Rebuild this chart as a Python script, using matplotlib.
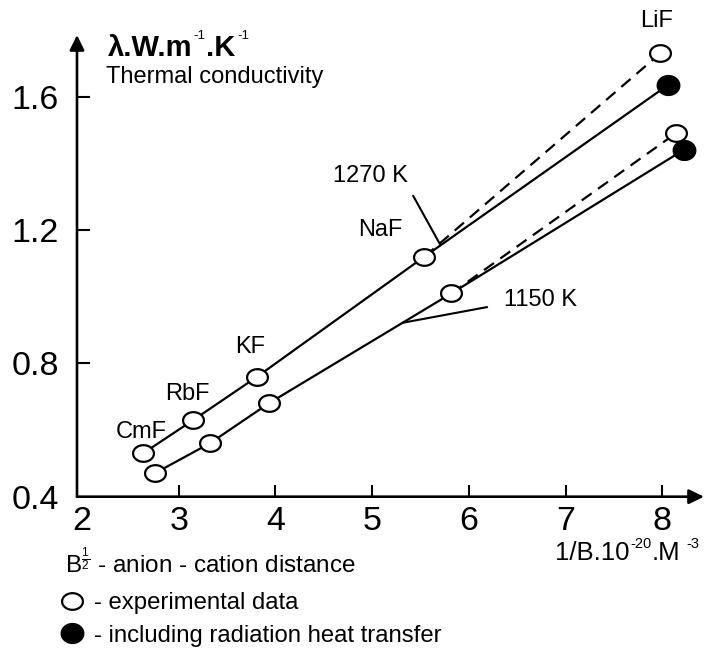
import numpy as np
import matplotlib
matplotlib.use("Agg")
import matplotlib.pyplot as plt
from matplotlib.path import Path
from matplotlib.lines import Line2D

plt.rcParams['font.family'] = ['Liberation Sans', 'DejaVu Sans']
plt.rcParams['mathtext.fontset'] = 'custom'
plt.rcParams['mathtext.rm'] = 'Liberation Sans'
plt.rcParams['mathtext.it'] = 'Liberation Sans:italic'
plt.rcParams['mathtext.bf'] = 'Liberation Sans:bold'

# Thermal conductivity of alkali fluorides vs 1/B (B^(1/2) = anion-cation distance)
compounds = ['CmF', 'RbF', 'KF', 'NaF', 'LiF']

# 1270 K series: experimental (open) and LiF including radiation heat transfer (filled)
inv_b_1270 = [2.63, 3.15, 3.81, 5.54, 7.98]
lam_1270_exp = [0.53, 0.63, 0.76, 1.12, 1.73]
inv_b_1270_rad = [8.06]
lam_1270_rad = [1.635]

# 1150 K series
inv_b_1150 = [2.75, 3.32, 3.93, 5.82, 8.14]
lam_1150_exp = [0.47, 0.56, 0.68, 1.01, 1.49]
inv_b_1150_rad = [8.22]
lam_1150_rad = [1.44]

x_ticks = [2, 3, 4, 5, 6, 7, 8]
y_ticks = [0.4, 0.8, 1.2, 1.6]
y_tick_labels = ['0.4', '0.8', '1.2', '1.6']

# slightly flattened ellipse markers
t = np.linspace(0, 2 * np.pi, 60)
ell_open = Path(np.column_stack([np.cos(t), 0.8 * np.sin(t)]), closed=True)
ell_fill = Path(np.column_stack([np.cos(t), 0.88 * np.sin(t)]), closed=True)

fig = plt.figure(figsize=(7.04, 6.48), dpi=100)
ax = fig.add_axes([77 / 704, 1 - 496.7 / 648, 627 / 704, (496.7 - 35) / 648])
ax.set_xlim(1.947, 8.432)
ax.set_ylim(0.4, 1.785)

for s in ax.spines.values():
    s.set_visible(False)

# axis lines with arrow heads
arrow_kw = dict(arrowstyle='-|>,head_length=0.45,head_width=0.22', lw=1.9,
                color='black', shrinkA=0, shrinkB=0, mutation_scale=20)
ax.annotate('', xy=(1, 0), xytext=(0, 0), xycoords='axes fraction',
            textcoords='axes fraction', arrowprops=arrow_kw, annotation_clip=False)
ax.annotate('', xy=(0, 1), xytext=(0, 0), xycoords='axes fraction',
            textcoords='axes fraction', arrowprops=arrow_kw, annotation_clip=False)

ax.set_xticks(x_ticks)
ax.set_xticklabels([str(v) for v in x_ticks])
ax.set_yticks(y_ticks)
ax.set_yticklabels(y_tick_labels)
ax.tick_params(axis='both', direction='in', length=9, width=1.5, labelsize=24.5)
ax.tick_params(axis='x', pad=7)
ax.tick_params(axis='y', pad=13)
ax.xaxis.get_major_ticks()[0].tick1line.set_visible(False)
ax.yaxis.get_major_ticks()[0].tick1line.set_visible(False)

line_kw = dict(color='black', lw=1.6, zorder=2)
open_kw = dict(ls='none', marker=ell_open, ms=15, mfc='white', mec='black',
               mew=1.6, zorder=4)
fill_kw = dict(ls='none', marker=ell_fill, ms=16, mfc='black', mec='black',
               mew=1.2, zorder=4)

for xs, ys, xr, yr in [(inv_b_1270, lam_1270_exp, inv_b_1270_rad, lam_1270_rad),
                       (inv_b_1150, lam_1150_exp, inv_b_1150_rad, lam_1150_rad)]:
    # solid: fit including radiation heat transfer
    ax.plot(xs[:4] + xr, ys[:4] + yr, ls='-', **line_kw)
    # dashed: continuation to experimental LiF point
    ax.plot(xs[3:], ys[3:], ls=(0, (5.5, 3.5)), **line_kw)
    ax.plot(xs, ys, **open_kw)
    ax.plot(xr, yr, **fill_kw)

# compound labels above the 1270 K points
label_offsets = [(-1.5, 15.5), (-4.5, 18.5), (-5, 21.5), (-31.5, 19), (-3, 23)]
for name, x, y, off in zip(compounds, inv_b_1270, lam_1270_exp, label_offsets):
    ax.annotate(name, xy=(x, y), xytext=off, textcoords='offset points',
                ha='center', va='center', fontsize=17, annotation_clip=False)

ax.annotate('1270 K', xy=(5.70, 1.158), xytext=(-49.7, 49), textcoords='offset points',
            ha='center', va='center', fontsize=17,
            arrowprops=dict(arrowstyle='-', lw=1.5, color='black',
                            relpos=(1.0, 0.0), shrinkA=5, shrinkB=0))
ax.annotate('1150 K', xy=(5.32, 0.922), xytext=(98.6, 16.6), textcoords='offset points',
            ha='center', va='center', fontsize=17,
            arrowprops=dict(arrowstyle='-', lw=1.5, color='black',
                            relpos=(0.0, 0.3), shrinkA=10, shrinkB=0))


def chained_text(x0, y0, pieces):
    """Write text pieces one after another on a common baseline (figure fraction).
    Each piece: (text, fontsize, weight, rise_pt, gap_pt)."""
    s, fs, wt, rise, gap = pieces[0]
    prev = ax.annotate(s, xy=(x0, y0), xycoords='figure fraction',
                       xytext=(gap, rise), textcoords='offset points',
                       fontsize=fs, weight=wt, ha='left', va='baseline',
                       annotation_clip=False)
    for s, fs, wt, rise, gap in pieces[1:]:
        prev = ax.annotate(s, xy=(1, y0), xycoords=(prev, 'figure fraction'),
                           xytext=(gap, rise), textcoords='offset points',
                           fontsize=fs, weight=wt, ha='left', va='baseline',
                           annotation_clip=False)
    return prev


# y-axis title
chained_text(108 / 704, 1 - 56 / 648, [
    ('λ.W.m', 21, 'bold', 0, 0),
    ('-1', 9.5, 'normal', 12, 0.8),
    ('.K', 21, 'bold', 0, 0),
    ('-1', 9.5, 'normal', 12, 1.5),
])
fig.text(106 / 704, 1 - 83 / 648, 'Thermal conductivity', fontsize=17,
         va='baseline', ha='left')

# x-axis title
chained_text(555 / 704, 1 - 560 / 648, [
    ('1/B.10', 18.5, 'normal', 0, 0),
    ('-20', 10.5, 'normal', 8.5, 0.3),
    ('.M', 18.5, 'normal', 0, 0),
    ('-3', 10.5, 'normal', 8.5, 4.5),
])

fig.text(65 / 704, 1 - 573 / 648, r'B$^{\frac{1}{2}}$ - anion - cation distance',
         fontsize=17.5, va='baseline', ha='left')

handles = [Line2D([], [], **open_kw), Line2D([], [], **fill_kw)]
fig.legend(handles, ['- experimental data', '- including radiation heat transfer'],
           loc='upper left', bbox_to_anchor=(58 / 704, 1 - 592 / 648),
           frameon=False, fontsize=17.2, handlelength=1.2, handletextpad=0.3,
           labelspacing=0.45, borderpad=0, borderaxespad=0, numpoints=1)

fig.savefig('out.png', dpi=100)
